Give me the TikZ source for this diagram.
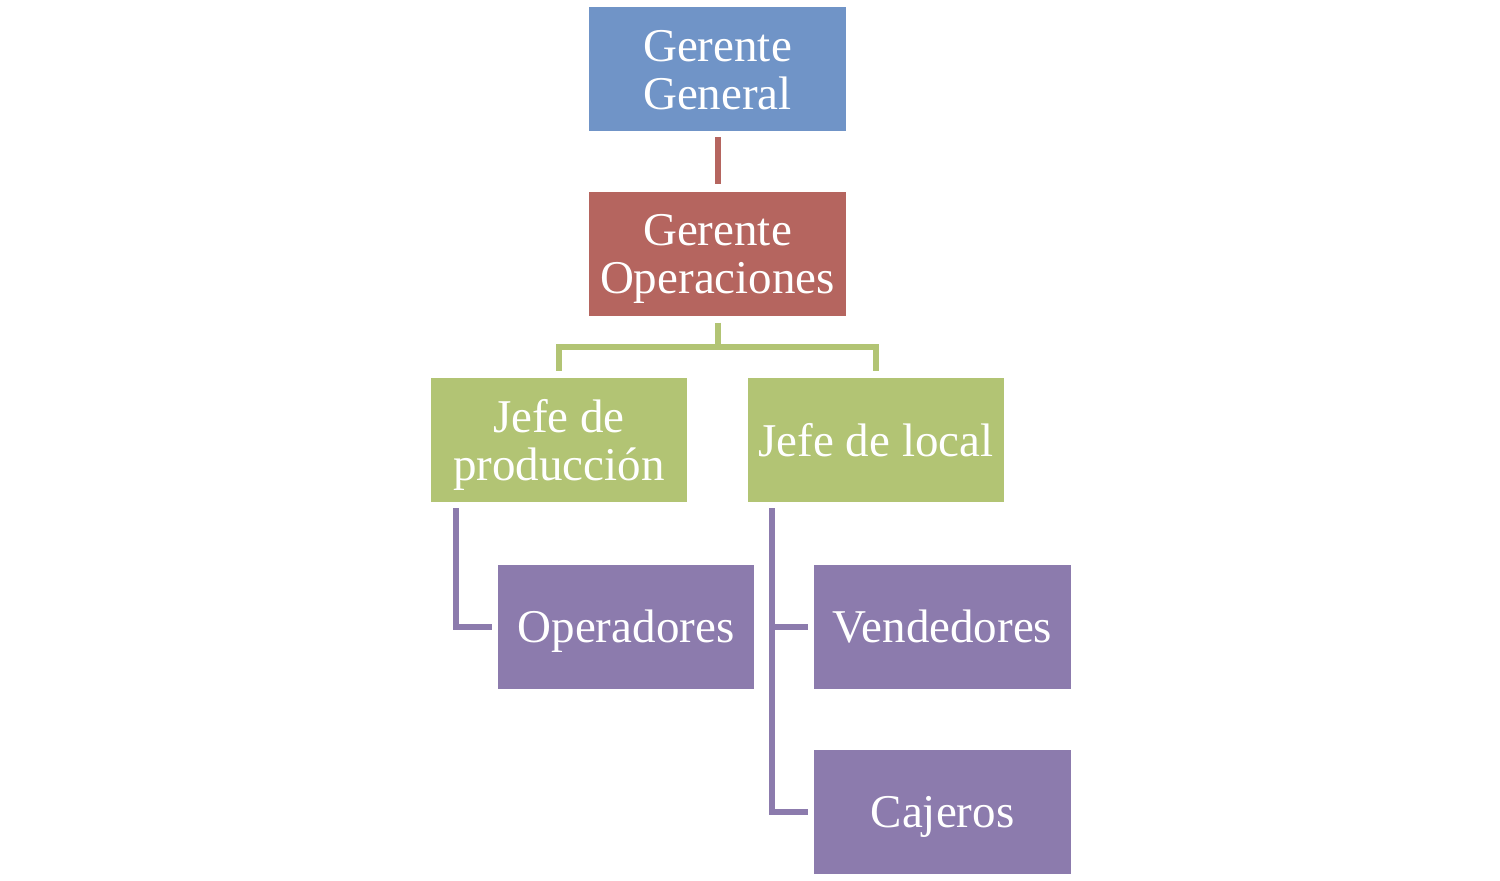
\documentclass[tikz,border=0pt]{standalone}
\usepackage{fontspec}
\setmainfont{Liberation Serif}
\definecolor{cblue}{RGB}{112,148,199}
\definecolor{cred}{RGB}{181,101,95}
\definecolor{cgreen}{RGB}{178,196,116}
\definecolor{cpurple}{RGB}{140,123,173}
\newcommand{\boxtext}[1]{\raisebox{-13pt}[0pt][0pt]{\begin{tabular}{@{}c@{}}#1\end{tabular}}}
\begin{document}
\begin{tikzpicture}[x=1pt,y=-1pt,
  box/.style={rectangle, inner sep=0pt, text=white,
    font=\fontsize{47}{48}\selectfont, minimum width=256.5pt, minimum height=124pt},
  conn/.style={line width=6pt}]
\useasboundingbox (0,0) rectangle (1500,881);
\node[box, fill=cblue] (gg) at (717.5,69) {\boxtext{Gerente\\General}};
\node[box, fill=cred] (go) at (717.5,253.5) {\boxtext{Gerente\\Operaciones}};
\node[box, fill=cgreen] (jp) at (559,440) {\boxtext{Jefe de\\producción}};
\node[box, fill=cgreen] (jl) at (876,440) {\boxtext{Jefe de local}};
\node[box, fill=cpurple] (op) at (626,626.5) {\boxtext{Operadores}};
\node[box, fill=cpurple] (ve) at (942.5,626.5) {\boxtext{Vendedores}};
\node[box, fill=cpurple] (ca) at (942.5,811.5) {\boxtext{Cajeros}};
% connectors
\draw[conn, cred] ([yshift=-6pt]gg.south) -- ([yshift=7pt]go.north);
\coordinate (gbar) at (717.5,346.5);
\draw[conn, cgreen] ([yshift=-7pt]go.south) -- (gbar) -| ([yshift=7pt]jp.north);
\draw[conn, cgreen] (gbar) -| ([yshift=7pt]jl.north);
\coordinate (jpd) at (455.5,508);
\draw[conn, cpurple] (jpd) |- ([xshift=-6pt]op.west);
\coordinate (jld) at (772,508);
\draw[conn, cpurple] (jld) |- ([xshift=-6pt]ca.west);
\draw[conn, cpurple] (jld |- ve.west) -- ([xshift=-6pt]ve.west);
\end{tikzpicture}
\end{document}
